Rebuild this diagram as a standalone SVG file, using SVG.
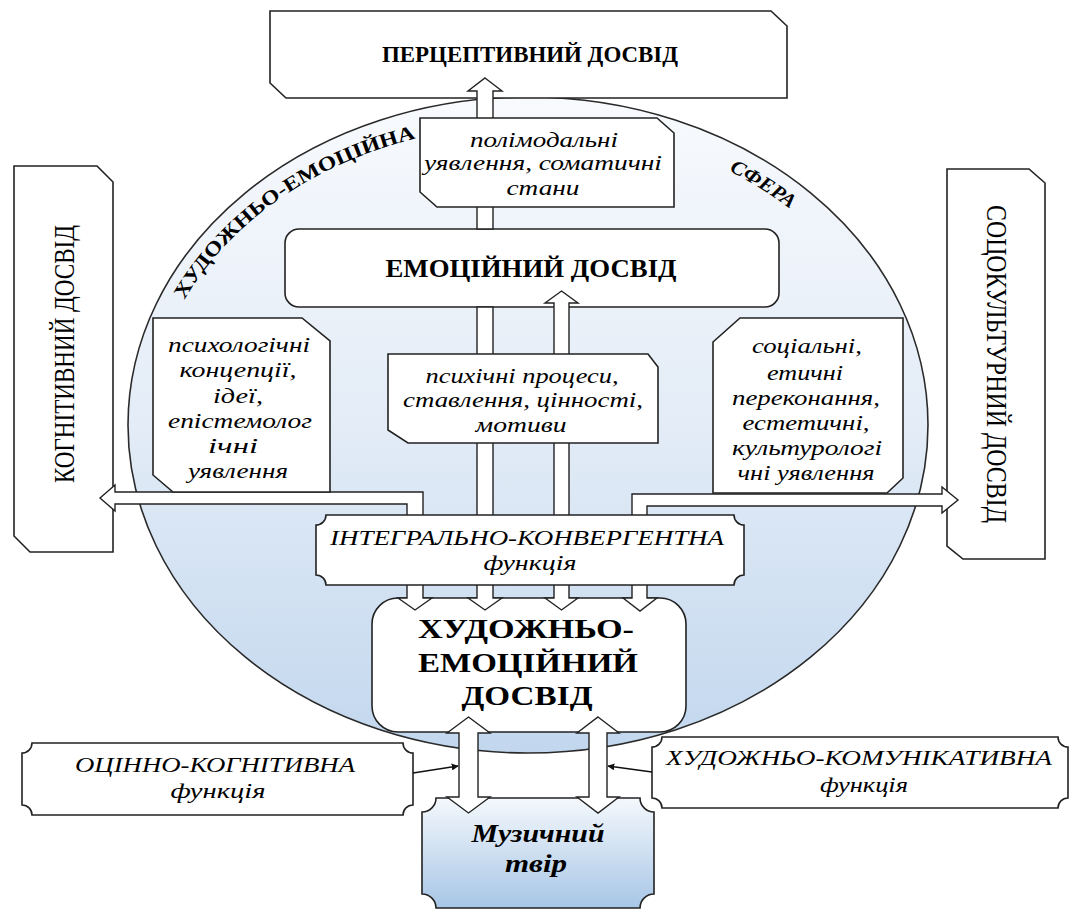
<svg xmlns="http://www.w3.org/2000/svg" width="1071" height="910" viewBox="0 0 1071 910">
<defs>
<linearGradient id="gEll" x1="0" y1="0" x2="0" y2="1">
<stop offset="0" stop-color="#f8fafd"/>
<stop offset="0.5" stop-color="#e3ecf7"/>
<stop offset="1" stop-color="#c2d7ee"/>
</linearGradient>
<linearGradient id="gMus" x1="0" y1="0" x2="0" y2="1">
<stop offset="0" stop-color="#f4f8fc"/>
<stop offset="1" stop-color="#a7c6e6"/>
</linearGradient>
<marker id="ah" viewBox="0 0 10 10" refX="9" refY="5" markerWidth="7" markerHeight="7" orient="auto" markerUnits="userSpaceOnUse">
<path d="M0,0 L10,5 L0,10 Z" fill="#111"/>
</marker>
<path id="arcText" d="M 150,425 A 378 300 0 0 1 906,425" fill="none"/>
</defs>
<style>
.box{fill:#fff;stroke:#222;stroke-width:1.6}
.arr{fill:#fff;stroke:#222;stroke-width:1.4;stroke-linejoin:miter}
.t{fill:#000;font-family:"Liberation Serif","Times New Roman",serif}
.b{font-weight:bold}
.i{font-style:italic}
.m{text-anchor:middle}
.s20{font-size:20px}
.s21{font-size:21px}
</style>

<g id="sphere">
<ellipse cx="528" cy="425" rx="400" ry="328" fill="url(#gEll)" stroke="#2a2a2a" stroke-width="1.6"/>
<text class="t b" font-size="20"><textPath href="#arcText" startOffset="131" textLength="290" lengthAdjust="spacingAndGlyphs">ХУДОЖНЬО-ЕМОЦІЙНА</textPath></text>
<text class="t b i" font-size="20"><textPath href="#arcText" startOffset="742" textLength="72" lengthAdjust="spacingAndGlyphs">СФЕРА</textPath></text>
</g>

<g id="perceptive">
<polygon class="box" points="270,11 771,11 787,26 787,98 286,98 270,83"/>
<text class="t b m" x="530" y="62" font-size="24" textLength="296" lengthAdjust="spacingAndGlyphs">ПЕРЦЕПТИВНИЙ ДОСВІД</text>
</g>

<g id="cognitive">
<polygon class="box" points="14,166 97,166 113,182 113,552 30,552 14,536"/>
<text class="t m" transform="translate(74,354) rotate(-90)" x="0" y="0" font-size="29" textLength="258" lengthAdjust="spacingAndGlyphs">КОГНІТИВНИЙ ДОСВІД</text>
</g>

<g id="sociocultural">
<polygon class="box" points="947,169 1029,169 1045,183 1045,559 963,559 947,546"/>
<text class="t m" transform="translate(987,364) rotate(90)" x="0" y="0" font-size="29" textLength="318" lengthAdjust="spacingAndGlyphs">СОЦОКУЛЬТУРНИЙ ДОСВІД</text>
</g>

<g id="emotional">
<rect class="box" x="285" y="229" width="494" height="78" rx="14"/>
<text class="t b m" x="531" y="277" font-size="25" textLength="291" lengthAdjust="spacingAndGlyphs">ЕМОЦІЙНИЙ ДОСВІД</text>
</g>

<g id="art-emotional">
<rect class="box" x="372" y="598" width="314" height="134" rx="26"/>
<text class="t b m" x="526" y="638" font-size="28" textLength="216" lengthAdjust="spacingAndGlyphs">ХУДОЖНЬО-</text>
<text class="t b m" x="528" y="672" font-size="28" textLength="220" lengthAdjust="spacingAndGlyphs">ЕМОЦІЙНИЙ</text>
<text class="t b m" x="527" y="705" font-size="28" textLength="131" lengthAdjust="spacingAndGlyphs">ДОСВІД</text>
</g>

<g id="music">
<path d="M436,798 H640 A14 14 0 0 0 654,812 V894 A14 14 0 0 0 640,908 H436 A14 14 0 0 0 422,894 V812 A14 14 0 0 0 436,798 Z" fill="url(#gMus)" stroke="#222" stroke-width="1.6"/>
<text class="t b i m" x="538" y="842" font-size="25" textLength="133" lengthAdjust="spacingAndGlyphs">Музичний</text>
<text class="t b i m" x="536" y="872" font-size="25" textLength="62" lengthAdjust="spacingAndGlyphs">твір</text>
</g>

<g id="evaluative">
<path class="box" d="M32,743 H403 A10 10 0 0 0 413,753 V805 A10 10 0 0 0 403,815 H32 A10 10 0 0 0 22,805 V753 A10 10 0 0 0 32,743 Z"/>
<text class="t i m s21" x="215" y="772" textLength="280" lengthAdjust="spacingAndGlyphs">ОЦІННО-КОГНІТИВНА</text>
<text class="t i m s21" x="218" y="798" textLength="95" lengthAdjust="spacingAndGlyphs">функція</text>
</g>

<g id="communicative">
<path class="box" d="M662,737 H1058 A10 10 0 0 0 1068,747 V798 A10 10 0 0 0 1058,808 H662 A10 10 0 0 0 652,798 V747 A10 10 0 0 0 662,737 Z"/>
<text class="t i m s21" x="859" y="765" textLength="386" lengthAdjust="spacingAndGlyphs">ХУДОЖНЬО-КОМУНІКАТИВНА</text>
<text class="t i m s21" x="864" y="792" textLength="88" lengthAdjust="spacingAndGlyphs">функція</text>
</g>

<g id="connectors">
<polygon class="arr" points="485,78 502,91 493,91 493,229 477,229 477,91 468,91"/>
<polygon class="arr" points="477,307 493,307 493,598 502,598 485,610 468,598 477,598"/>
<polygon class="arr" points="561.5,291 578,303 569,303 569,598 578,598 561.5,610 545,598 554,598 554,303 545,303"/>
<polygon class="arr" points="100,498 115,485 115,492 423,492 423,598 432,598 415,610 398,598 407,598 407,504 115,504 115,511"/>
<polygon class="arr" points="958,500 942,487 942,494 632,494 632,598 623,598 640,611 657,598 647,598 647,506 942,506 942,513"/>
<polygon class="arr" points="468.5,717 490,733 478,733 478,797 490,797 468.5,813 447,797 459,797 459,733 447,733"/>
<polygon class="arr" points="598,717 619,733 607,733 607,797 619,797 598,813 577,797 589,797 589,733 577,733"/>
<line x1="413" y1="773" x2="458" y2="766" stroke="#111" stroke-width="1.3" marker-end="url(#ah)"/>
<line x1="652" y1="772" x2="608" y2="766" stroke="#111" stroke-width="1.3" marker-end="url(#ah)"/>
</g>

<g id="polymodal">
<polygon class="box" points="420,118 657,118 674,133 674,207 437,207 420,192"/>
<text class="t i m s20" x="544" y="147" textLength="148" lengthAdjust="spacingAndGlyphs">полімодальні</text>
<text class="t i m s20" x="543" y="170" textLength="238" lengthAdjust="spacingAndGlyphs">уявлення, соматичні</text>
<text class="t i m s20" x="543" y="195" textLength="73" lengthAdjust="spacingAndGlyphs">стани</text>
</g>

<g id="psychic">
<polygon class="box" points="388,354 648,354 658,367 658,443 408,443 388,430"/>
<text class="t i m s20" x="522" y="383" textLength="193" lengthAdjust="spacingAndGlyphs">психічні процеси,</text>
<text class="t i m s20" x="523" y="407" textLength="240" lengthAdjust="spacingAndGlyphs">ставлення, цінності,</text>
<text class="t i m s20" x="521" y="432" textLength="91" lengthAdjust="spacingAndGlyphs">мотиви</text>
</g>

<g id="psychological">
<polygon class="box" points="153,318 302,318 330,341 330,492 173,492 153,475"/>
<text class="t i m s20" x="239" y="352" textLength="142" lengthAdjust="spacingAndGlyphs">психологічні</text>
<text class="t i m s20" x="238" y="377" textLength="117" lengthAdjust="spacingAndGlyphs">концепції,</text>
<text class="t i m s20" x="238" y="403" textLength="50" lengthAdjust="spacingAndGlyphs">ідеї,</text>
<text class="t i m s20" x="240" y="428" textLength="144" lengthAdjust="spacingAndGlyphs">епістемолог</text>
<text class="t i m s20" x="233" y="453" textLength="50" lengthAdjust="spacingAndGlyphs">ічні</text>
<text class="t i m s20" x="238" y="478" textLength="100" lengthAdjust="spacingAndGlyphs">уявлення</text>
</g>

<g id="social">
<polygon class="box" points="713,342 740,318 903,318 903,478 887,493 713,493"/>
<text class="t i m s20" x="807" y="353" textLength="110" lengthAdjust="spacingAndGlyphs">соціальні,</text>
<text class="t i m s20" x="805" y="380" textLength="76" lengthAdjust="spacingAndGlyphs">етичні</text>
<text class="t i m s20" x="806" y="405" textLength="148" lengthAdjust="spacingAndGlyphs">переконання,</text>
<text class="t i m s20" x="806" y="430" textLength="127" lengthAdjust="spacingAndGlyphs">естетичні,</text>
<text class="t i m s20" x="807" y="455" textLength="150" lengthAdjust="spacingAndGlyphs">культурологі</text>
<text class="t i m s20" x="806" y="480" textLength="137" lengthAdjust="spacingAndGlyphs">чні уявлення</text>
</g>

<g id="integral">
<path class="box" d="M326,515 H734 A10 10 0 0 0 744,525 V575 A10 10 0 0 0 734,585 H326 A10 10 0 0 0 316,575 V525 A10 10 0 0 0 326,515 Z"/>
<text class="t i m s21" x="527" y="545" textLength="394" lengthAdjust="spacingAndGlyphs">ІНТЕГРАЛЬНО-КОНВЕРГЕНТНА</text>
<text class="t i m s21" x="530" y="570" textLength="93" lengthAdjust="spacingAndGlyphs">функція</text>
</g>
</svg>
